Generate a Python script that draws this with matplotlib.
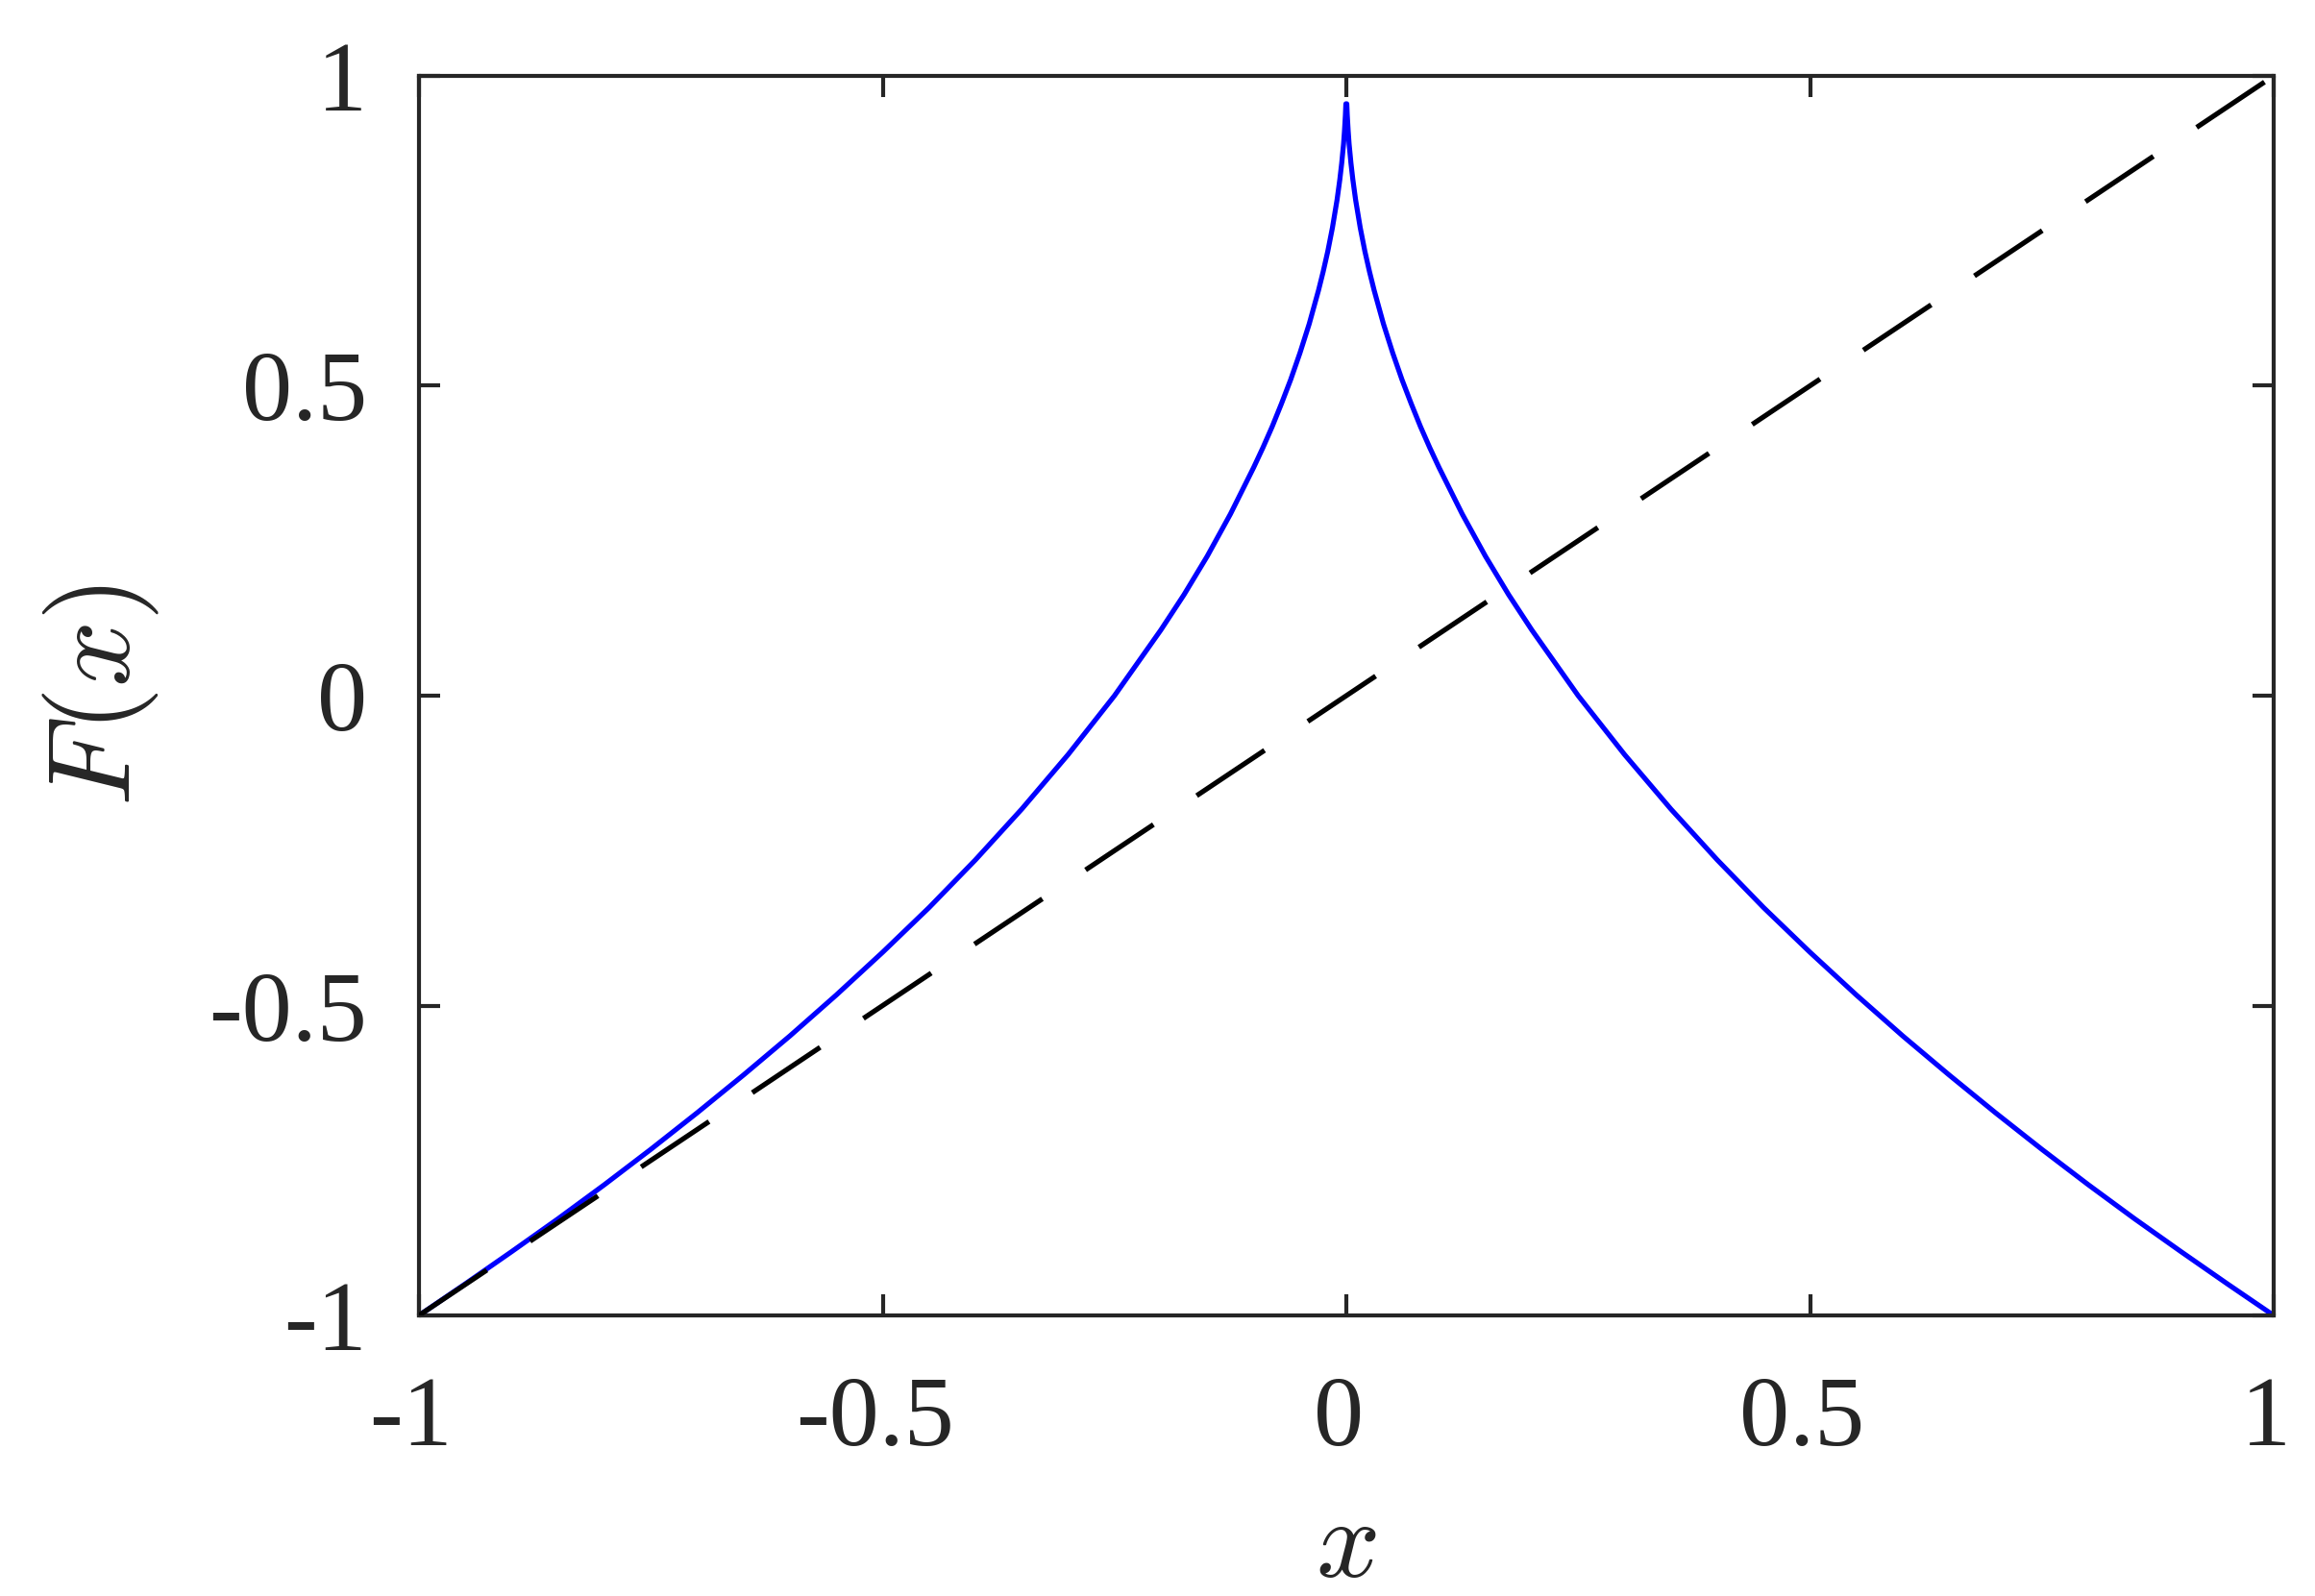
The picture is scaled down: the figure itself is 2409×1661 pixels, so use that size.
import matplotlib
matplotlib.use("Agg")
import matplotlib.pyplot as plt
import matplotlib.transforms as mtransforms

# values (cusp at x = 0, ends at (-1,-1) and (1,-1))
x_vals = [-1.0, -0.95, -0.9, -0.85, -0.8, -0.75, -0.7, -0.65, -0.6, -0.55,
          -0.5, -0.45, -0.4, -0.35, -0.3, -0.25, -0.2, -0.175, -0.15, -0.125,
          -0.1, -0.09, -0.08, -0.07, -0.06, -0.05, -0.04, -0.03, -0.025, -0.02,
          -0.015, -0.01, -0.007, -0.005, -0.003, -0.002, -0.001, -0.0005,
          0.0005, 0.001, 0.002, 0.003, 0.005, 0.007, 0.01, 0.015, 0.02, 0.025,
          0.03, 0.04, 0.05, 0.06, 0.07, 0.08, 0.09, 0.1, 0.125, 0.15, 0.175,
          0.2, 0.25, 0.3, 0.35, 0.4, 0.45, 0.5, 0.55, 0.6, 0.65, 0.7, 0.75,
          0.8, 0.85, 0.9, 0.95, 1.0]
F_vals = [-1.000, -0.949, -0.897, -0.844, -0.789, -0.732, -0.673, -0.612,
          -0.549, -0.483, -0.414, -0.342, -0.265, -0.183, -0.095, 0.000, 0.106,
          0.163, 0.225, 0.293, 0.368, 0.400, 0.434, 0.471, 0.510, 0.553, 0.600,
          0.654, 0.684, 0.717, 0.755, 0.800, 0.833, 0.859, 0.890, 0.911, 0.937,
          0.955,
          0.955, 0.937, 0.911, 0.890, 0.859, 0.833, 0.800, 0.755, 0.717, 0.684,
          0.654, 0.600, 0.553, 0.510, 0.471, 0.434, 0.400, 0.368, 0.293, 0.225,
          0.163, 0.106, 0.000, -0.095, -0.183, -0.265, -0.342, -0.414, -0.483,
          -0.549, -0.612, -0.673, -0.732, -0.789, -0.844, -0.897, -0.949, -1.000]
ref_x = [-1.0, 1.0]
ref_y = [-1.0, 1.0]

ticks = [-1, -0.5, 0, 0.5, 1]
tick_labels = ["-1", "-0.5", "0", "0.5", "1"]

plt.rcParams["mathtext.fontset"] = "cm"
AX_COL = "#262626"

fig = plt.figure(figsize=(2409 / 300, 1661 / 300), dpi=300)
ax = fig.add_axes([436 / 2409, 1 - 1369 / 1661, (2366 - 436) / 2409, (1369 - 79) / 1661])

ax.plot(x_vals, F_vals, color="#0000ff", lw=1.25, zorder=2)
ax.plot(ref_x, ref_y, color="black", lw=1.25, dashes=(16.3, 10.4), zorder=3)

ax.set_xlim(-1, 1)
ax.set_ylim(-1, 1)
ax.set_xticks(ticks)
ax.set_xticklabels(tick_labels)
ax.set_yticks(ticks)
ax.set_yticklabels(tick_labels)

for s in ax.spines.values():
    s.set_color(AX_COL)
    s.set_linewidth(1.0)
ax.tick_params(direction="in", length=5.2, width=1.0, color=AX_COL,
               top=True, right=True, labelcolor=AX_COL, labelsize=25)
ax.tick_params(axis="x", pad=15)
ax.tick_params(axis="y", pad=13)
shift = mtransforms.ScaledTranslation(-2 / 72, 0, fig.dpi_scale_trans)
for lab in ax.get_xticklabels() + ax.get_yticklabels():
    lab.set_family("Liberation Serif")
for lab in ax.get_xticklabels():
    lab.set_transform(lab.get_transform() + shift)

ax.set_xlabel("$x$", fontsize=28, color=AX_COL, labelpad=6)
ax.set_ylabel("$F(x)$", fontsize=29, color=AX_COL, labelpad=12)

fig.savefig("out.png", dpi=300, facecolor="white")
